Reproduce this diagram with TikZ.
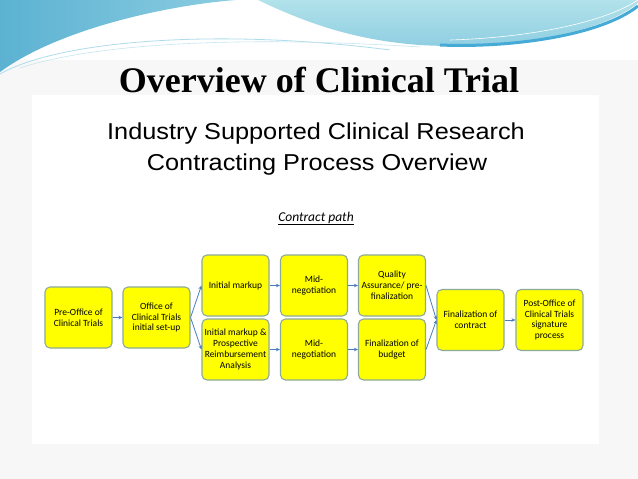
\documentclass[tikz,border=0pt]{standalone}
\usepackage{fontspec}
\setmainfont{Liberation Serif}
\newfontfamily\headfont{Liberation Sans}
\newfontfamily\boxfont{Carlito}
\usetikzlibrary{arrows.meta}
\definecolor{boxyellow}{RGB}{255,255,0}
\definecolor{boxedge}{RGB}{140,170,150}
\definecolor{arrowblue}{RGB}{74,126,187}
\definecolor{bggray}{RGB}{247,247,247}
\definecolor{waveA}{RGB}{92,178,210}
\definecolor{waveB}{RGB}{140,205,225}
\definecolor{waveC}{RGB}{178,226,234}
\definecolor{waveD}{RGB}{70,170,215}
\begin{document}
\begin{tikzpicture}[x=1pt,y=-1pt,
 stepbox/.style={draw=boxedge,line width=1.1pt,fill=boxyellow,rounded corners=5pt,
   minimum width=67pt,minimum height=61pt,inner sep=1pt,align=center,
   font=\boxfont\fontsize{9.5}{10.8}\selectfont},
 flow/.style={draw=arrowblue,line width=0.8pt,-{Stealth[length=4pt,width=3.5pt]}}]
% background
\fill[bggray] (0,0) rectangle (638,479);
\useasboundingbox (0,0) rectangle (638,479);
\fill[white] (0,0) rectangle (638,60);
\fill[white] (32,95) rectangle (599,444);
% header waves
\shade[left color=waveA,right color=waveB] (0,0) -- (236,0) .. controls (170,5) and (60,28) .. (0,72) -- cycle;
\shade[top color=waveC,bottom color=waveB] (258,0) -- (638,0) -- (638,3) .. controls (600,35) and (500,50) .. (420,45) .. controls (350,40) and (300,20) .. (258,0) -- cycle;
\draw[waveD,line width=3pt] (638,6) .. controls (600,36) and (510,48) .. (440,45);
\draw[white,line width=0.6pt] (638,0) .. controls (600,25) and (520,38) .. (450,40);
\draw[waveB!70,line width=0.8pt] (0,74) .. controls (60,40) and (220,28) .. (390,50);
\draw[waveB!50,line width=0.6pt] (20,68) .. controls (100,42) and (250,36) .. (420,47);
% titles
\node[anchor=base] (title) at (319,92) {\fontsize{36}{40}\selectfont\bfseries Overview of Clinical Trial};
\node[anchor=base] (head1) at (316,139) {\scalebox{1.1}[1]{\headfont\fontsize{23}{27}\selectfont Industry Supported Clinical Research}};
\node[anchor=base] (head2) at (317,170) {\scalebox{1.1}[1]{\headfont\fontsize{23}{27}\selectfont Contracting Process Overview}};
\node[anchor=base] (path) at (316,221) {\boxfont\itshape\fontsize{13.5}{16}\selectfont\underline{Contract path}};
% boxes
\node[stepbox] (pre) at (78.5,317.5) {Pre-Office of\\Clinical Trials};
\node[stepbox] (office) at (156.5,317.5) {Office of\\Clinical Trials\\initial set-up};
\node[stepbox] (mk1) at (235.5,285.5) {Initial markup};
\node[stepbox] (mk2) at (235.5,349.5) {Initial markup \&\\Prospective\\Reimbursement\\Analysis};
\node[stepbox] (mid1) at (314,285.5) {Mid-\\negotiation};
\node[stepbox] (mid2) at (314,349.5) {Mid-\\negotiation};
\node[stepbox] (qa) at (392,285.5) {Quality\\Assurance/ pre-\\finalization};
\node[stepbox] (bud) at (392,349.5) {Finalization of\\budget};
\node[stepbox] (fin) at (470.5,320) {Finalization of\\contract};
\node[stepbox] (post) at (549.5,320) {Post-Office of\\Clinical Trials\\signature\\process};
% connectors
\draw[flow] (pre) -- (office);
\draw[flow] (office.east) -- (mk1.west);
\draw[flow] (office.east) -- (mk2.west);
\draw[flow] (mk1) -- (mid1);
\draw[flow] (mk2) -- (mid2);
\draw[flow] (mid1) -- (qa);
\draw[flow] (mid2) -- (bud);
\draw[flow] (qa.east) -- (fin.west);
\draw[flow] (bud.east) -- (fin.west);
\draw[flow] (fin) -- (post);
\end{tikzpicture}
\end{document}
